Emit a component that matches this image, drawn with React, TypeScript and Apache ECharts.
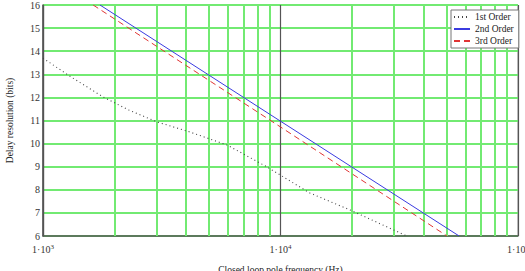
import React, { useEffect, useRef } from "react";
import * as echarts from "echarts";

const firstOrder: [number, number][] = [
  [1000, 13.7], [1274, 12.97], [1790, 12.02], [2300, 11.45], [3020, 10.94],
  [4160, 10.5], [5955, 9.94], [8770, 8.99], [13300, 7.86], [19600, 7.13], [34000, 6.0],
];
const secondOrder: [number, number][] = [[1738, 16], [10000, 10.97], [56500, 6]];
const thirdOrder: [number, number][] = [[1626, 16], [10000, 10.72], [50230, 6]];
const minorFreqs = [2000, 3000, 4000, 5000, 6000, 7000, 8000, 9000, 20000, 30000, 40000, 50000, 60000, 70000, 80000, 90000];
const seriesNames = ["1st Order", "2nd Order", "3rd Order"];

const FONT = "Liberation Serif";

export default function App() {
  const ref = useRef<HTMLDivElement>(null);
  useEffect(() => {
    const chart = echarts.init(ref.current!, null, { renderer: "svg" });
    chart.setOption({
      animation: false,
      textStyle: { fontFamily: FONT },
      grid: {
        left: 43, right: 7, top: 5, bottom: 35,
        containLabel: false,
        outerBoundsMode: "none",
        show: true, borderColor: "#888", borderWidth: 1, backgroundColor: "#fff",
      },
      legend: {
        orient: "vertical",
        left: 451,
        top: 10,
        z: 20,
        data: seriesNames,
        backgroundColor: "#fff",
        borderColor: "#777",
        borderWidth: 1,
        borderRadius: 0,
        padding: [2, 5, 2, 2],
        itemGap: 2,
        itemWidth: 16,
        itemHeight: 8,
        itemStyle: { opacity: 0 },
        textStyle: { fontFamily: FONT, fontSize: 9.5, color: "#222" },
      },
      xAxis: {
        type: "log",
        logBase: 10,
        min: 1000,
        max: 100000,
        name: "Closed loop pole frequency (Hz)",
        nameLocation: "middle",
        nameGap: 29,
        nameTextStyle: { fontFamily: FONT, fontSize: 9.5, color: "#222" },
        axisLine: { show: true, lineStyle: { color: "#555", width: 1.5 } },
        axisTick: { show: false },
        splitLine: { show: true, lineStyle: { color: "#555", width: 1.2 } },
        minorTick: { show: false },
        minorSplitLine: { show: false },
        axisLabel: {
          margin: 7,
          formatter: (v: number) => "1·10{s|" + Math.round(Math.log10(v)) + "}",
          fontFamily: FONT,
          fontSize: 10,
          color: "#333",
          rich: { s: { fontFamily: FONT, fontSize: 7, color: "#333", verticalAlign: "top", padding: [0, 0, 6, 0] } },
        },
      },
      yAxis: {
        type: "value",
        min: 6,
        max: 16,
        interval: 1,
        name: "Delay resolution (bits)",
        nameLocation: "middle",
        nameGap: 28,
        nameTextStyle: { fontFamily: FONT, fontSize: 9.5, color: "#222" },
        axisLine: { show: true, lineStyle: { color: "#555", width: 1.5 } },
        axisTick: { show: false },
        splitLine: { show: true, lineStyle: { color: "#72ea72", width: 2 } },
        axisLabel: { margin: 3, fontFamily: FONT, fontSize: 10, color: "#333" },
      },
      series: [
        {
          type: "line",
          name: "grid",
          data: [],
          z: 1,
          silent: true,
          markLine: {
            z: 1,
            silent: true,
            symbol: ["none", "none"],
            label: { show: false },
            lineStyle: { color: "#72ea72", width: 2, type: "solid" },
            data: minorFreqs.map((f) => ({ xAxis: f })),
          },
        },
        {
          type: "line",
          name: seriesNames[0],
          data: firstOrder,
          z: 3,
          showSymbol: false,
          symbol: "none",
          lineStyle: { color: "#444", width: 1.1, type: [1, 3] },
          itemStyle: { color: "#444" },
        },
        {
          type: "line",
          name: seriesNames[1],
          data: secondOrder,
          z: 3,
          showSymbol: false,
          symbol: "none",
          lineStyle: { color: "#3b3be0", width: 1 },
          itemStyle: { color: "#3b3be0" },
        },
        {
          type: "line",
          name: seriesNames[2],
          data: thirdOrder,
          z: 3,
          showSymbol: false,
          symbol: "none",
          lineStyle: { color: "#e03535", width: 1, type: [6, 4] },
          itemStyle: { color: "#e03535" },
        },
      ],
    });
    return () => chart.dispose();
  }, []);
  return <div ref={ref} style={{ position: "fixed", left: 0, top: 0, width: 525, height: 271, background: "#fff" }} />;
}
